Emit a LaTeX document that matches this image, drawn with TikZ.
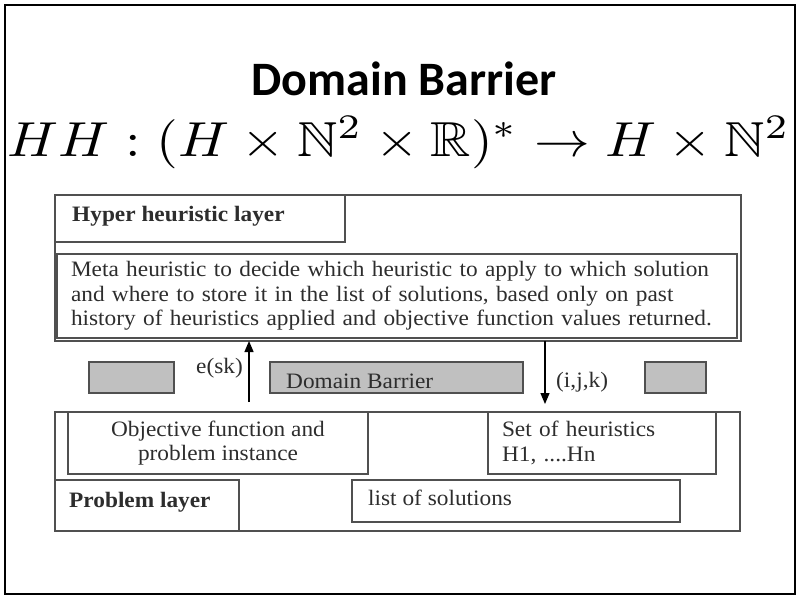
\documentclass[tikz,border=0pt]{standalone}
\usepackage{amsmath,amssymb}
\usepackage{graphicx}
\usepackage{fontspec}
\usepackage{tikz}
\usetikzlibrary{positioning, arrows.meta}
\newfontfamily\slidefont{Carlito}
\newfontfamily\paperfont[FakeStretch=1.06]{Liberation Serif}
\definecolor{boxgray}{RGB}{192,192,192}
\definecolor{edgegray}{RGB}{80,80,80}
\definecolor{inkgray}{RGB}{45,45,45}

\begin{document}
\begin{tikzpicture}[x=1pt, y=-1pt,
    box/.style={rectangle, draw=edgegray, line width=1.3pt, anchor=north west, inner sep=0pt, outer sep=0pt},
    bar/.style={box, fill=boxgray},
    txt/.style={font=\paperfont\fontsize{22}{24.5}\selectfont, text=inkgray, inner sep=0pt},
    boldtxt/.style={txt, font=\paperfont\bfseries\fontsize{22}{24.5}\selectfont},
    flow/.style={-{Triangle[length=11pt, width=9pt]}, line width=1.3pt}]
    \useasboundingbox (0,0) rectangle (797,598);
    % Slide frame
    \draw[line width=2pt] (5,5) rectangle (795,594);

    % Title and signature
    \node[font=\slidefont\bfseries\fontsize{48}{56}\selectfont, anchor=base, inner sep=0pt] (title) at (404,95) {Domain Barrier};
    \node[anchor=base, inner sep=0pt] (signature) at (399,156)
        {\scalebox{1}[0.88]{\resizebox{782pt}{!}{$HH : (H \times \mathbb{N}^2 \times \mathbb{R})^* \rightarrow H \times \mathbb{N}^2$}}};

    % Hyper heuristic layer
    \node[box, minimum width=686pt, minimum height=146pt] (hyper) at (55,195) {};
    \node[box, minimum width=290pt, minimum height=47pt] (hyperlabel) at (55,195) {};
    \node[boldtxt, anchor=base west] (hypertext) at (72,221) {Hyper heuristic layer};
    \node[box, minimum width=680pt, minimum height=84pt, txt, text width=652pt, inner xsep=14pt, align=left] (meta) at (57,254)
        {Meta heuristic to decide which heuristic to apply to which solution\\
         and where to store it in the list of solutions, based only on past\\
         history of heuristics applied and objective function values returned.};

    % Domain barrier
    \node[bar, minimum width=85pt, minimum height=31pt] (barleft) at (89,362) {};
    \node[bar, minimum width=253pt, minimum height=31pt] (barmid) at (270,362) {};
    \node[txt, anchor=base west] (bartext) at (286,388) {Domain Barrier};
    \node[bar, minimum width=61pt, minimum height=31pt] (barright) at (645,362) {};

    % Messages across the barrier
    \coordinate (eskfoot) at (249,402);
    \coordinate (ijkfoot) at (545,404);
    \draw[flow] (eskfoot) -- (eskfoot |- hyper.south);
    \draw[flow] (ijkfoot |- hyper.south) -- (ijkfoot);
    \node[txt, anchor=base east] (esk) at (243,373) {e(sk)};
    \node[txt, anchor=base west] (ijk) at (556,387) {(i,j,k)};

    % Problem layer
    \node[box, minimum width=685pt, minimum height=119pt] (problem) at (55,412) {};
    \node[box, minimum width=300pt, minimum height=62pt, txt, align=center] (objective) at (68,412)
        {Objective function and\\ problem instance};
    \node[box, minimum width=228pt, minimum height=62pt, txt, text width=200pt, inner xsep=14pt, align=left] (heuristics) at (488,412)
        {Set of heuristics\\ H1, ....Hn};
    \node[box, minimum width=184pt, minimum height=51pt] (problemlabel) at (55,480) {};
    \node[boldtxt, anchor=base west] (problemtext) at (69,507) {Problem layer};
    \node[box, minimum width=328pt, minimum height=42pt] (solutions) at (352,480) {};
    \node[txt, anchor=base west] (solutionstext) at (368,505) {list of solutions};
\end{tikzpicture}
\end{document}
